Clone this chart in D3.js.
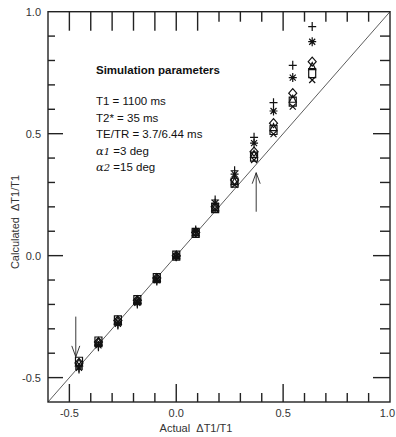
<!DOCTYPE html>
<html><head><meta charset="utf-8">
<script src="https://cdn.jsdelivr.net/npm/d3@7"></script>
<style>body{margin:0;background:#fff}svg{display:block}</style>
</head><body>
<script>
const actual = [-0.455, -0.364, -0.273, -0.182, -0.091, 0, 0.091, 0.182, 0.273, 0.364, 0.455, 0.545, 0.636];
const plusVals = [-0.465, -0.373, -0.284, -0.198, -0.104, -0.005, 0.105, 0.228, 0.348, 0.485, 0.627, 0.78, 0.939];
const starVals = [-0.46, -0.368, -0.28, -0.193, -0.1, -0.003, 0.1, 0.215, 0.334, 0.461, 0.593, 0.73, 0.877];
const diamondVals = [-0.44, -0.354, -0.266, -0.183, -0.092, 0.0, 0.095, 0.2, 0.31, 0.426, 0.543, 0.666, 0.795];
const triangleVals = [-0.44, -0.354, -0.268, -0.184, -0.093, 0.0, 0.094, 0.197, 0.303, 0.415, 0.525, 0.641, 0.775];
const squareVals = [-0.435, -0.352, -0.265, -0.182, -0.092, 0.0, 0.093, 0.195, 0.299, 0.406, 0.515, 0.631, 0.748];
const crossVals = [-0.445, -0.36, -0.272, -0.187, -0.096, -0.002, 0.09, 0.19, 0.29, 0.392, 0.498, 0.611, 0.72];
const majorTicks = [-0.5, 0.0, 0.5, 1.0];
const tickLabels = ["-0.5", "0.0", "0.5", "1.0"];
const minorTicks = [-0.5,-0.4,-0.3,-0.2,-0.1,0.0,0.1,0.2,0.3,0.4,0.5,0.6,0.7,0.8,0.9];
const paramTitle = "Simulation parameters";
const paramLines = ["T1 = 1100 ms", "T2* = 35 ms", "TE/TR = 3.7/6.44 ms"];
const alphaLines = [["1", " =3 deg"], ["2", " =15 deg"]];
const arrows = [{x: -0.47, y0: -0.25, y1: -0.415}, {x: 0.374, y0: 0.18, y1: 0.34}];

const W = 396, H = 437;
const svg = d3.select("body").append("svg").attr("width", W).attr("height", H);
const x = d3.scaleLinear().domain([-0.6, 1.0]).range([48, 390]);
const y = d3.scaleLinear().domain([-0.6, 1.0]).range([402, 11.7]);
const font = "'Liberation Sans', Arial, sans-serif";

// diagonal identity line
svg.append("line").attr("x1", x(-0.6)).attr("y1", y(-0.6)).attr("x2", x(1.0)).attr("y2", y(1.0))
  .attr("stroke", "#333").attr("stroke-width", 0.8);

// frame
const ax = svg.append("g").attr("stroke", "#222").attr("stroke-width", 1.4);
ax.append("rect").attr("x", x(-0.6)).attr("y", y(1.0)).attr("width", x(1.0) - x(-0.6)).attr("height", y(-0.6) - y(1.0))
  .attr("fill", "none");

// ticks
const isMajor = v => Math.abs(v * 2 - Math.round(v * 2)) < 1e-6;
minorTicks.forEach(v => {
  const maj = isMajor(v);
  ax.append("line").attr("x1", x(v)).attr("x2", x(v)).attr("y1", y(-0.6)).attr("y2", y(-0.6) - (maj ? 18 : 9));
  const topLen = maj ? 19 : (v <= 0.11 ? 19 : 10);
  ax.append("line").attr("x1", x(v)).attr("x2", x(v)).attr("y1", y(1.0)).attr("y2", y(1.0) + topLen);
  ax.append("line").attr("y1", y(v)).attr("y2", y(v)).attr("x1", x(-0.6)).attr("x2", x(-0.6) + (maj ? 15 : 7));
  ax.append("line").attr("y1", y(v)).attr("y2", y(v)).attr("x1", x(1.0)).attr("x2", x(1.0) - (maj ? 17 : 10));
});

// tick labels
majorTicks.forEach((v, i) => {
  const last = i === majorTicks.length - 1;
  svg.append("text").attr("x", last ? 395 : x(v)).attr("y", 417).attr("text-anchor", last ? "end" : "middle")
    .attr("font-family", font).attr("font-size", 11).attr("fill", "#333").text(tickLabels[i]);
  svg.append("text").attr("x", 41).attr("y", y(v) + 4).attr("text-anchor", "end")
    .attr("font-family", font).attr("font-size", 11).attr("fill", "#333").text(tickLabels[i]);
});

// axis titles
svg.append("text").attr("x", 196).attr("y", 432).attr("text-anchor", "middle")
  .attr("font-family", font).attr("font-size", 11).attr("fill", "#333")
  .attr("xml:space", "preserve").text("Actual  \u0394T1/T1");
svg.append("text").attr("transform", "translate(19,222) rotate(-90)").attr("text-anchor", "middle")
  .attr("font-family", font).attr("font-size", 11).attr("fill", "#333")
  .attr("xml:space", "preserve").text("Calculated  \u0394T1/T1");

// parameter box text
svg.append("text").attr("x", 96).attr("y", 74).attr("font-family", font).attr("font-size", 11.5)
  .attr("font-weight", "bold").attr("fill", "#111").text(paramTitle);
paramLines.forEach((t, i) => {
  svg.append("text").attr("x", 96).attr("y", 105 + i * 16.5).attr("font-family", font).attr("font-size", 11.5)
    .attr("fill", "#111").text(t);
});
alphaLines.forEach((a, i) => {
  const t = svg.append("text").attr("x", 96).attr("y", 105 + (3 + i) * 16.5).attr("font-family", font)
    .attr("font-size", 11.5).attr("fill", "#111");
  t.append("tspan").attr("font-family", "'DejaVu Serif', serif").attr("font-style", "italic").text("\u03b1");
  t.append("tspan").attr("font-family", "'DejaVu Serif', serif").attr("font-style", "italic").attr("font-size", 10).text(a[0]);
  t.append("tspan").text(a[1]);
});

// arrows
arrows.forEach(a => {
  const g = svg.append("g").attr("stroke", "#222").attr("stroke-width", 0.9).attr("fill", "none");
  g.append("line").attr("x1", x(a.x)).attr("x2", x(a.x)).attr("y1", y(a.y0)).attr("y2", y(a.y1));
  const dir = a.y1 > a.y0 ? 1 : -1;
  const tipY = y(a.y1);
  const back = dir * 11;
  g.append("path").attr("d", `M${x(a.x) - 4},${tipY + back} L${x(a.x)},${tipY} L${x(a.x) + 4},${tipY + back}`);
});

// markers
const mk = svg.append("g").attr("stroke", "#111").attr("stroke-width", 1.2).attr("fill", "none");
const series = [
  {vals: plusVals, shape: "plus"},
  {vals: starVals, shape: "star"},
  {vals: diamondVals, shape: "diamond"},
  {vals: triangleVals, shape: "triangle"},
  {vals: squareVals, shape: "square"},
  {vals: crossVals, shape: "cross"}
];
function shapePath(s, cx, cy) {
  switch (s) {
    case "plus": return `M${cx-4},${cy}H${cx+4}M${cx},${cy-4.5}V${cy+4.5}`;
    case "star": return `M${cx-4},${cy}H${cx+4}M${cx},${cy-4.5}V${cy+4.5}M${cx-3},${cy-3}L${cx+3},${cy+3}M${cx-3},${cy+3}L${cx+3},${cy-3}`;
    case "diamond": return `M${cx},${cy-4.5}L${cx+4},${cy}L${cx},${cy+4.5}L${cx-4},${cy}Z`;
    case "triangle": return `M${cx},${cy-4}L${cx+3.5},${cy+3}L${cx-3.5},${cy+3}Z`;
    case "square": return `M${cx-3.5},${cy-4.5}H${cx+3.5}V${cy+4.5}H${cx-3.5}Z`;
    case "cross": return `M${cx-3},${cy-3}L${cx+3},${cy+3}M${cx-3},${cy+3}L${cx+3},${cy-3}`;
  }
}
series.forEach(s => {
  mk.selectAll(null).data(s.vals).enter().append("path")
    .attr("d", (v, i) => shapePath(s.shape, x(actual[i]), y(v)));
});
</script>
</body></html>
